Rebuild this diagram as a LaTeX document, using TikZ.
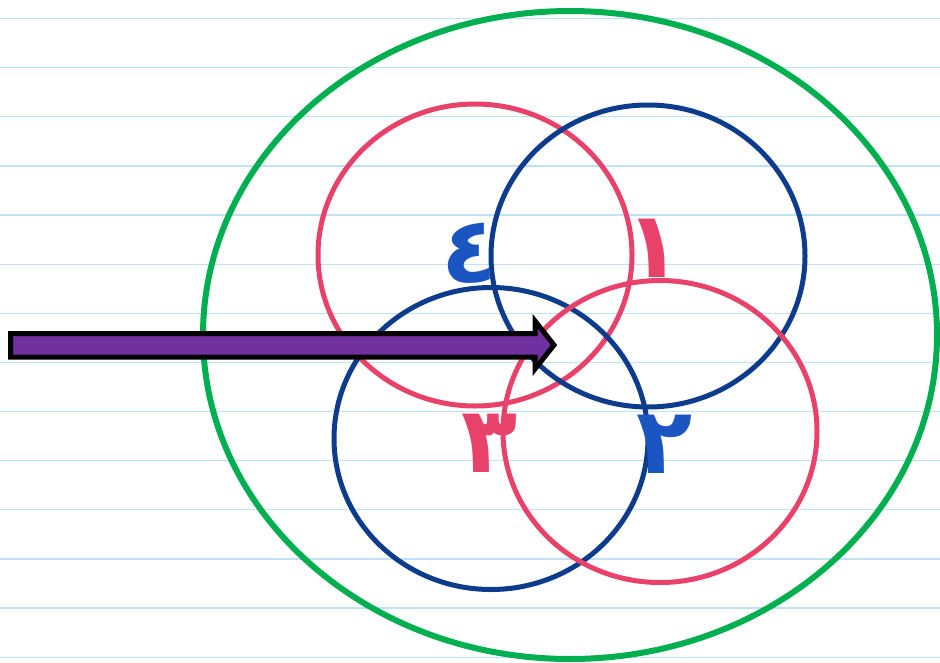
\documentclass[tikz,border=0pt]{standalone}
\usepackage{fontspec}
\usepackage{tikz}
\usetikzlibrary{calc}
\newfontfamily\arabicfont[Script=Arabic]{DejaVu Sans}
\TeXXeTstate=1

\definecolor{ruleblue}{HTML}{BEE3F8}
\definecolor{ringgreen}{HTML}{00B050}
\definecolor{ringred}{HTML}{E8416A}
\definecolor{ringblue}{HTML}{0E3C8C}
\definecolor{numblue}{HTML}{1A55C2}
\definecolor{arrowpurple}{HTML}{7030A0}

\begin{document}
\begin{tikzpicture}[x=1pt, y=-1pt]
    \tikzstyle{every node}=[font=\arabicfont\bfseries\fontsize{92}{92}\selectfont, inner sep=0pt]
    \tikzstyle{ring}=[line width=5pt]
      \useasboundingbox (0,0) rectangle (940,662);
      \fill[white] (0,0) rectangle (940,662);

      % ruled lines of the page
      \foreach \k in {0,...,13}
        \draw[ruleblue, line width=1.3pt] (0,{18.5+49.13*\k}) -- (940,{18.5+49.13*\k});

      % big ring
      \coordinate (G) at (570,335);
      \draw[ringgreen, line width=6pt] (G) ellipse (367pt and 324pt);

      % four small rings
      \coordinate (C1) at (475,255);
      \coordinate (C2) at (648,256);
      \coordinate (C3) at (491,438.5);
      \coordinate (C4) at (660,431.5);
      \draw[ring, ringred]  (C1) ellipse (157pt and 151pt);
      \draw[ring, ringblue] (C2) ellipse (157pt and 151pt);
      \draw[ring, ringblue] (C3) ellipse (157pt and 151pt);
      \draw[ring, ringred]  (C4) ellipse (157pt and 151pt);

      % numbers
      \node[text=ringred]  (n1) at (654,248) {\beginR ١\endR};
      \node[text=numblue]  (n2) at (665,444) {\beginR ٢\endR};
      \node[text=ringred]  (n3) at (490,443) {\beginR ٣\endR};
      \node[text=numblue]  (n4) at (470,253) {\beginR ٤\endR};

      % arrow
      \coordinate (A) at (10.5,333.5);
      \coordinate (B) at (535,333.5);
      \coordinate (Bt) at (535,321);
      \coordinate (T) at (554,345);
      \coordinate (Cb) at (535,369);
      \coordinate (C) at (535,357);
      \coordinate (D) at (10.5,357);
      \draw[fill=arrowpurple, line width=5pt, miter limit=10]
        (A) -- (B) -- (Bt) -- (T) -- (Cb) -- (C) -- (D) -- cycle;

\end{tikzpicture}
\end{document}
